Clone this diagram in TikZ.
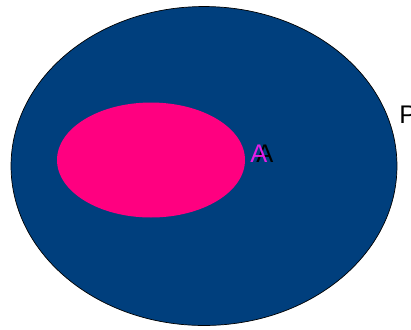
\documentclass[tikz,border=0pt]{standalone}
\usepackage{fontspec}
\setmainfont{Liberation Sans}
\usetikzlibrary{shapes.geometric}

\definecolor{setblue}{HTML}{003F7D}
\definecolor{setpink}{HTML}{FF0080}
\definecolor{labelmagenta}{HTML}{E61EE6}

\begin{document}
\begin{tikzpicture}[
    x=0.02cm, y=-0.02cm,
    universe/.style={
        ellipse,
        minimum width=7.72cm,
        minimum height=6.38cm,
        inner sep=0pt,
        draw=black,
        line width=0.4pt,
        fill=setblue
    },
    subset/.style={
        ellipse,
        minimum width=3.76cm,
        minimum height=2.3cm,
        inner sep=0pt,
        fill=setpink
    },
    setlabel/.style={
        inner sep=0pt,
        anchor=west,
        font=\fontsize{14.5}{16}\selectfont
    }
]
\useasboundingbox (0,0) rectangle (411,329);

% --- Conjuntos ---
\node[universe] (P) at (204,166) {};
\node[subset]   (A) at (151,160) {};

% --- Etiquetas ---
\node[setlabel] (labelP) at (399,115) {P};
\node[setlabel] (labelAb) at (256,154) {A};
\node[setlabel, text=labelmagenta] (labelA) at (250,154) {A};

\end{tikzpicture}
\end{document}
